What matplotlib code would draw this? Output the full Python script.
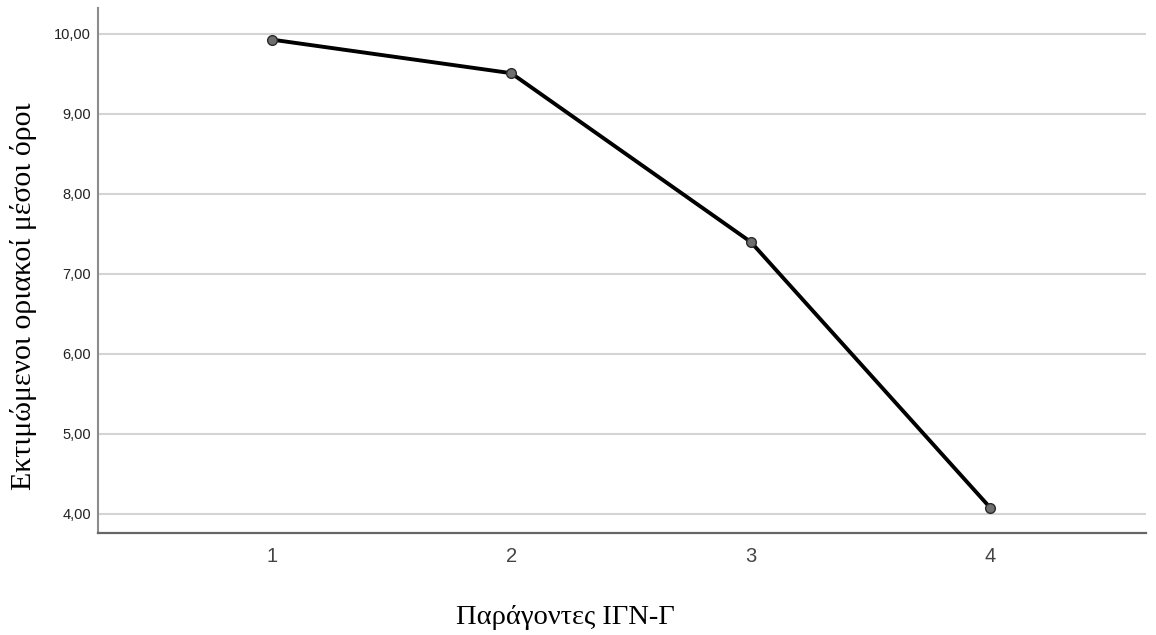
import matplotlib
matplotlib.use("Agg")
import matplotlib.pyplot as plt

# Estimated marginal means
factors = [1, 2, 3, 4]
means = [9.93, 9.51, 7.40, 4.075]
y_ticks = [4, 5, 6, 7, 8, 9, 10]
y_tick_labels = ["4,00", "5,00", "6,00", "7,00", "8,00", "9,00", "10,00"]

fig = plt.figure(figsize=(11.56, 6.35), dpi=100)
ax = fig.add_axes([98 / 1156, (635 - 533) / 635, (1146 - 98) / 1156, (533 - 8) / 635])

ax.plot(factors, means, color="black", linewidth=2.8, zorder=3,
        marker="o", markersize=7, markerfacecolor="#6e6e6e",
        markeredgecolor="#2a2a2a", markeredgewidth=1.0)

ax.set_xlim(0.275, 4.65)
ax.set_ylim(3.76, 10.325)
ax.set_xticks(factors)
ax.set_xticklabels([str(f) for f in factors], fontsize=14.5, color="#444444",
                   family="Liberation Sans")
ax.set_yticks(y_ticks)
ax.set_yticklabels(y_tick_labels, fontsize=10.5, color="#222222",
                   family="Liberation Sans")
ax.tick_params(axis="both", length=0)
ax.tick_params(axis="x", pad=10)
ax.tick_params(axis="y", pad=5)

ax.grid(axis="y", color="#d4d4d4", linewidth=1.5, zorder=0)
ax.set_axisbelow(True)

for side in ["top", "right"]:
    ax.spines[side].set_visible(False)
ax.spines["left"].set_color("#8c8c8c")
ax.spines["left"].set_linewidth(1.5)
ax.spines["bottom"].set_color("#666666")
ax.spines["bottom"].set_linewidth(1.6)

fig.text(565 / 1156, 1 - 618 / 635, "Παράγοντες ΙΓΝ-Γ",
         ha="center", va="center", fontsize=20.5, family="Liberation Serif")
fig.text(24 / 1156, 1 - 296 / 635, "Εκτιμώμενοι οριακοί μέσοι όροι",
         ha="center", va="center", rotation=90, fontsize=21.5,
         family="Liberation Serif")

fig.savefig("out.png", dpi=100, facecolor="white")
